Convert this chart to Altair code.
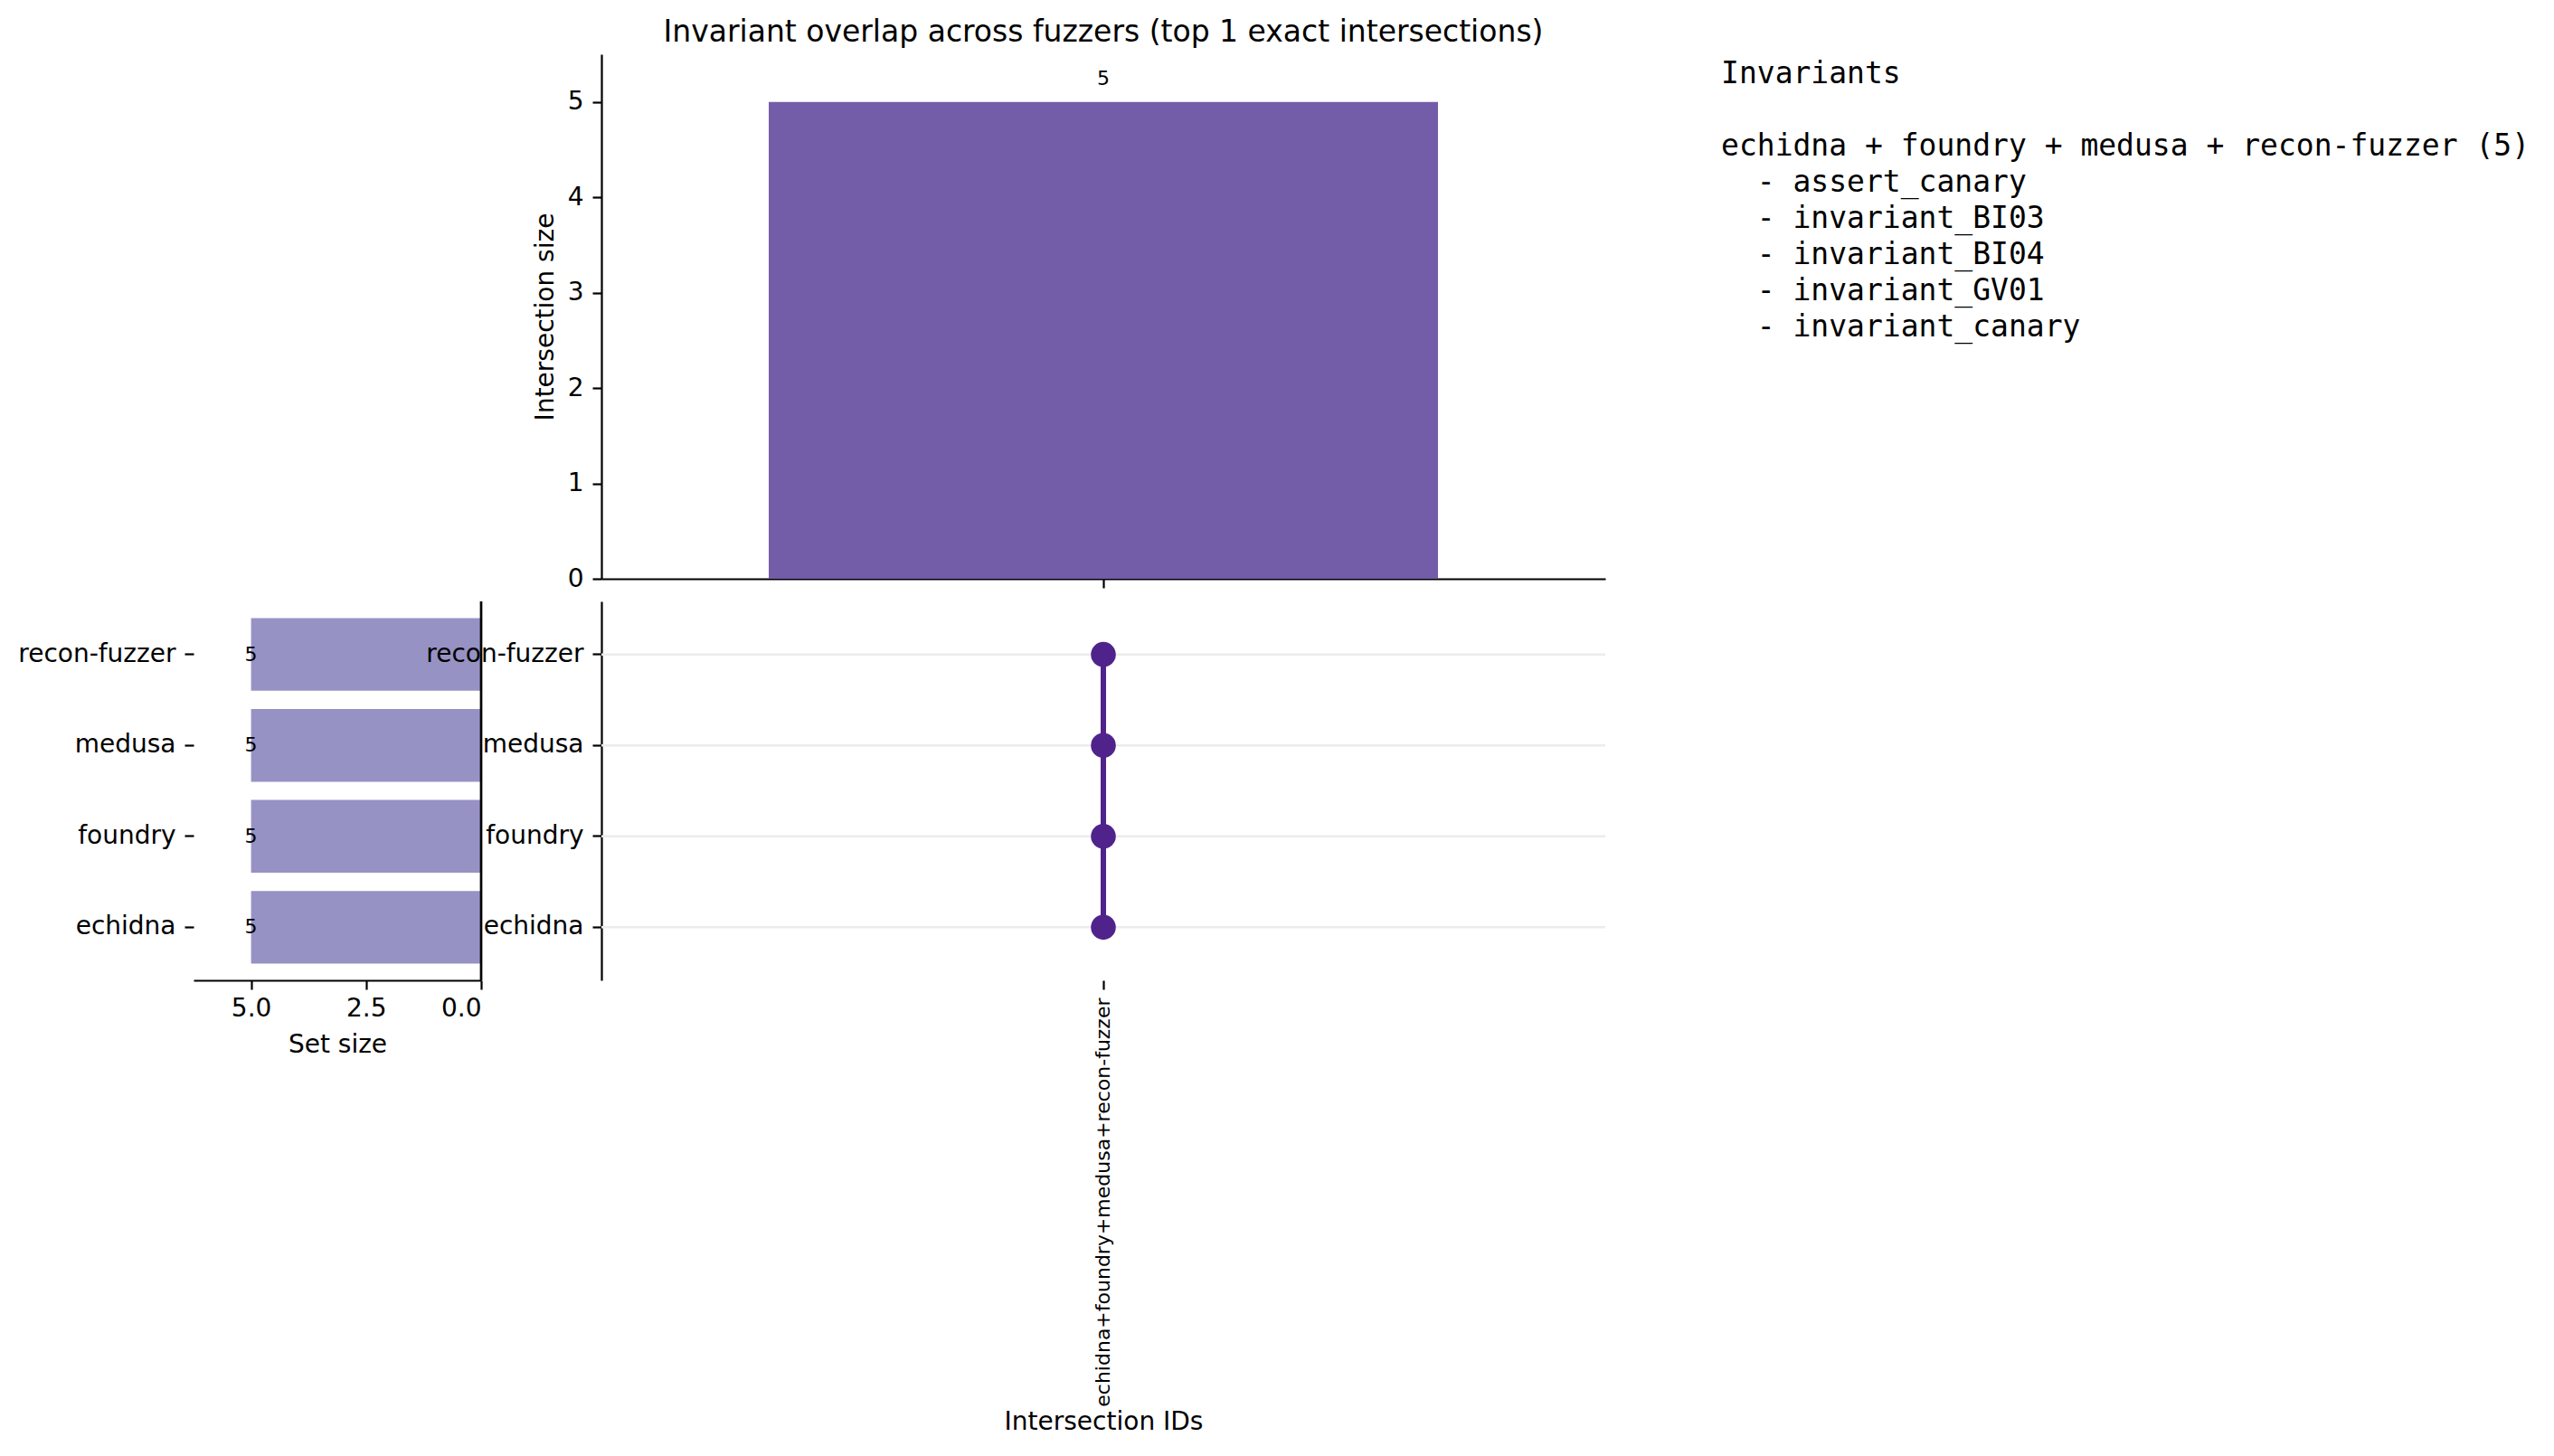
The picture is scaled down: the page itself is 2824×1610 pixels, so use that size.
import altair as alt
import pandas as pd

# ─────────────────────────────────────────────────────────────────────────────
# DATI
# ─────────────────────────────────────────────────────────────────────────────
fuzzers = ["echidna", "foundry", "medusa", "recon-fuzzer"]
set_sizes = [5, 5, 5, 5]
intersection_ids = ["echidna+foundry+medusa+recon-fuzzer"]
intersection_sizes = [5]
intersection_members = [["echidna", "foundry", "medusa", "recon-fuzzer"]]
invariants = [
    "assert_canary",
    "invariant_BI03",
    "invariant_BI04",
    "invariant_GV01",
    "invariant_canary",
]

TOP_COLOR = "#735ca8"
SET_COLOR = "#9792c4"
DOT_COLOR = "#50238c"
FONT = "DejaVu Sans"
MONO = "DejaVu Sans Mono"

row_order = fuzzers[::-1]  # dall'alto verso il basso

df_inter = pd.DataFrame({"id": intersection_ids, "size": intersection_sizes})
df_sets = pd.DataFrame({"fuzzer": fuzzers, "size": set_sizes})
df_matrix = pd.DataFrame(
    [
        {"id": iid, "fuzzer": f}
        for iid, members in zip(intersection_ids, intersection_members)
        for f in members
    ]
)

x_band = alt.Scale(type="band", paddingInner=0.2, paddingOuter=0.2)
y_band = alt.Scale(type="band", domain=row_order, paddingInner=0.2, paddingOuter=0.183)

# ─────────────────────────────────────────────────────────────────────────────
# BARRE IN ALTO - DIMENSIONE INTERSEZIONI
# ─────────────────────────────────────────────────────────────────────────────
top_bars = (
    alt.Chart(df_inter)
    .mark_bar(color=TOP_COLOR)
    .encode(
        x=alt.X("id:N", scale=x_band, axis=alt.Axis(labels=False, title=None)),
        y=alt.Y(
            "size:Q",
            scale=alt.Scale(domain=[0, 5.5], nice=False),
            axis=alt.Axis(values=[0, 1, 2, 3, 4, 5], format="d", title="Intersection size", titlePadding=10),
        ),
    )
)
top_labels = (
    alt.Chart(df_inter)
    .mark_text(baseline="alphabetic", dy=-19, fontSize=22, font=FONT, color="black")
    .encode(x=alt.X("id:N", scale=x_band), y="size:Q", text="size:Q")
)
top = (top_bars + top_labels).properties(
    width=1110,
    height=580,
    title=alt.TitleParams(
        "Invariant overlap across fuzzers (top 1 exact intersections)",
        anchor="middle",
        offset=7,
    ),
)

# ─────────────────────────────────────────────────────────────────────────────
# MATRICE - APPARTENENZA
# ─────────────────────────────────────────────────────────────────────────────
grid_rows = (
    alt.Chart(df_sets)
    .mark_rule(color="#ececec", strokeWidth=2.5)
    .encode(y=alt.Y("fuzzer:N", scale=y_band, axis=alt.Axis(title=None)))
)
links = (
    alt.Chart(df_matrix)
    .mark_line(color=DOT_COLOR, strokeWidth=6)
    .encode(
        x=alt.X("id:N", scale=x_band),
        y=alt.Y("fuzzer:N", scale=y_band),
        detail="id:N",
    )
)
dots = (
    alt.Chart(df_matrix)
    .mark_circle(color=DOT_COLOR, size=760, opacity=1)
    .encode(
        x=alt.X(
            "id:N",
            scale=x_band,
            axis=alt.Axis(
                title="Intersection IDs",
                labelAngle=270,
                labelFontSize=22,
                labelPadding=9,
                labelLimit=2000,
                domain=False,
                titlePadding=274,
            ),
        ),
        y=alt.Y("fuzzer:N", scale=y_band),
    )
)
matrix = (grid_rows + links + dots).properties(width=1110, height=419)

# ─────────────────────────────────────────────────────────────────────────────
# BARRE A SINISTRA - DIMENSIONE INSIEMI
# ─────────────────────────────────────────────────────────────────────────────
set_bars = (
    alt.Chart(df_sets)
    .mark_bar(color=SET_COLOR)
    .encode(
        x=alt.X(
            "size:Q",
            scale=alt.Scale(domain=[0, 6.25], reverse=True, nice=False),
            axis=alt.Axis(values=[0, 2.5, 5], format=".1f", title="Set size", titlePadding=12, labelPadding=7),
        ),
        y=alt.Y("fuzzer:N", scale=y_band, axis=alt.Axis(title=None, domain=False)),
    )
)
set_labels = (
    alt.Chart(df_sets)
    .mark_text(fontSize=22, font=FONT, color="black", align="center", baseline="middle")
    .encode(x="size:Q", y=alt.Y("fuzzer:N", scale=y_band), text="size:Q")
)
set_spine = (
    alt.Chart(df_sets)
    .mark_rule(color="black", strokeWidth=2.2)
    .encode(x=alt.datum(0))
)
left = (set_bars + set_labels + set_spine).properties(width=318, height=419)

# ─────────────────────────────────────────────────────────────────────────────
# SPAZIATORE E TESTO INVARIANTI
# ─────────────────────────────────────────────────────────────────────────────
spacer = (
    alt.Chart(pd.DataFrame({"v": [0]}))
    .mark_point(opacity=0)
    .encode(x=alt.X("v:Q", axis=None), y=alt.Y("v:Q", axis=None))
    .properties(width=318, height=580)
)

legend_rows = [0, 2] + [3 + i for i in range(len(invariants))]
legend_indent = [0, 0] + [2] * len(invariants)  # rientro in caratteri
legend_text = (
    ["Invariants", " + ".join(intersection_members[0]) + f" ({intersection_sizes[0]})"]
    + ["- " + inv for inv in invariants]
)
df_legend = pd.DataFrame({"row": legend_rows, "indent": legend_indent, "text": legend_text})

TEXT_W = 880
CHAR_W = 0.602 * 33

text_panel = (
    alt.Chart(df_legend)
    .mark_text(align="left", baseline="middle", font=MONO, fontSize=33, color="black")
    .encode(
        x=alt.X("indent:Q", scale=alt.Scale(domain=[0.25, 0.25 + TEXT_W / CHAR_W], nice=False, zero=False), axis=None),
        y=alt.Y("row:Q", scale=alt.Scale(domain=[-0.54, 13.96], reverse=True, nice=False, zero=False), axis=None),
        text="text:N",
    )
    .properties(width=TEXT_W, height=580)
)

# ─────────────────────────────────────────────────────────────────────────────
# COMPOSIZIONE
# ─────────────────────────────────────────────────────────────────────────────
chart = (
    alt.concat(
        spacer, top, text_panel, left, matrix,
        columns=3,
        spacing={"row": 25, "column": 133},
        bounds="flush",
    )
    .properties(padding={"left": 11, "top": 12, "right": 5, "bottom": 5})
    .configure_view(stroke=None)
    .configure_axis(
        labelFont=FONT,
        labelFontSize=28,
        labelColor="black",
        labelPadding=10,
        titleFont=FONT,
        titleFontSize=28,
        titleFontWeight="normal",
        titleColor="black",
        tickColor="black",
        tickWidth=2.2,
        tickSize=10,
        domainColor="black",
        domainWidth=2.2,
        grid=False,
    )
    .configure_title(font=FONT, fontSize=33, fontWeight="normal", color="black")
)

chart.save("out.html", embed_options={"renderer": "svg", "actions": False})
